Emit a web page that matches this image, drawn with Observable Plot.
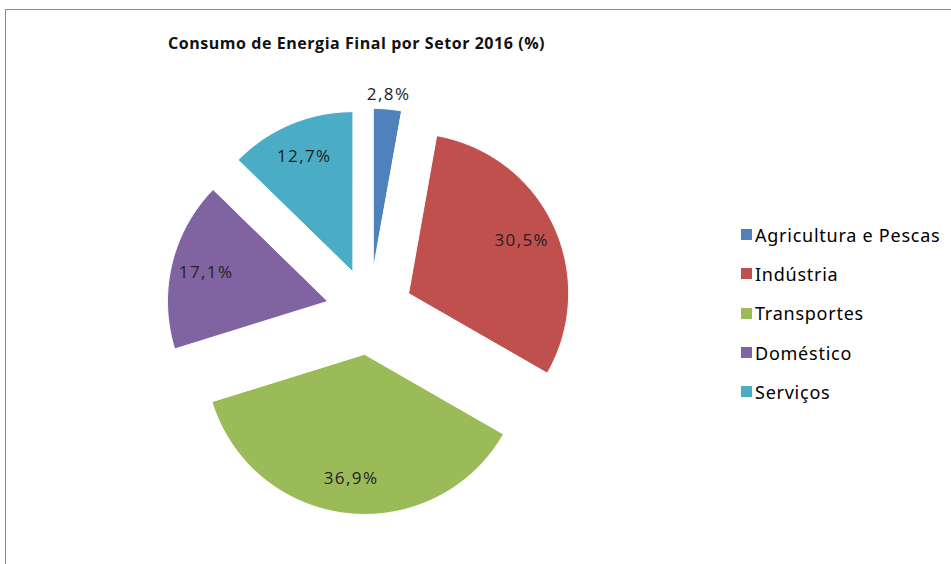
<!DOCTYPE html>
<html><head><meta charset="utf-8">
<script src="https://cdn.jsdelivr.net/npm/d3@7"></script>
<script src="https://cdn.jsdelivr.net/npm/@observablehq/plot@0.6"></script>
<style>
body{margin:0;background:#fff;}
#wrap{position:relative;width:951px;height:564px;overflow:hidden;font-family:"Open Sans",sans-serif;background:#fff;}
#frame{position:absolute;left:5px;top:9px;width:2000px;height:2000px;border-top:1px solid #8c8c8c;border-left:1px solid #8c8c8c;}
#chart{position:absolute;left:0;top:0;}
#title{position:absolute;left:168px;top:32px;font-weight:bold;font-size:16px;letter-spacing:0.55px;color:#111;white-space:nowrap;line-height:22px;}
#legend{position:absolute;left:741px;top:215px;}
.lg-swatch{height:39.3px;padding-bottom:0 !important;}
.lg-swatch > svg{margin-right:3px !important;}
.lg{font-family:"Open Sans",sans-serif !important;font-size:18px !important;color:#333 !important;}
.lg-swatch-label{font-size:18px !important;letter-spacing:0.75px !important;overflow:visible !important;}
.pie-label{letter-spacing:1.4px;}
</style></head>
<body><div id="wrap"><div id="frame"></div><div id="chart"></div><div id="title"></div><div id="legend"></div></div>
<script>
const sectors = ["Agricultura e Pescas", "Indústria", "Transportes", "Doméstico", "Serviços"];
const shares = [2.8, 30.5, 36.9, 17.1, 12.7];
const shareLabels = ["2,8%", "30,5%", "36,9%", "17,1%", "12,7%"];
const colors = ["#4F81BD", "#C0504D", "#9BBB59", "#8064A2", "#4BACC6"];
const titleText = "Consumo de Energia Final por Setor 2016 (%)";

// layout (pixels)
const W = 951, H = 564, CX = 369, CY = 311, R = 160;
const explode = 0.27;      // in radius units
const labelR = 0.78;       // inside label distance (radius units)
const outsideR = 1.09;     // outside label distance

const arcs = d3.pie().sort(null).value(d => d)(shares);
const rows = [];
const labelRows = [];
arcs.forEach((a, i) => {
  const mid = (a.startAngle + a.endAngle) / 2;
  const ox = explode * Math.sin(mid), oy = explode * Math.cos(mid);
  rows.push({sector: sectors[i], x: ox, y: oy});
  const n = Math.max(2, Math.ceil((a.endAngle - a.startAngle) / 0.01));
  for (let k = 0; k <= n; k++) {
    const t = a.startAngle + (a.endAngle - a.startAngle) * k / n;
    rows.push({sector: sectors[i], x: ox + Math.sin(t), y: oy + Math.cos(t)});
  }
  const lr = shares[i] < 5 ? outsideR : labelR;
  labelRows.push({text: shareLabels[i], x: ox + lr * Math.sin(mid), y: oy + lr * Math.cos(mid)});
});

const chart = Plot.plot({
  width: W, height: H, margin: 0,
  style: {fontFamily: "Open Sans", background: "transparent"},
  x: {domain: [-CX / R, (W - CX) / R], axis: null},
  y: {domain: [-(H - CY) / R, CY / R], axis: null},
  color: {domain: sectors, range: colors},
  marks: [
    Plot.line(rows, {x: "x", y: "y", z: "sector", fill: "sector", stroke: "white", strokeWidth: 1, curve: "linear-closed"}),
    Plot.text(labelRows, {x: "x", y: "y", text: "text", fontSize: 17, fill: "#222", className: "pie-label"})
  ]
});
document.getElementById("chart").append(chart);
document.getElementById("title").textContent = titleText;

const legend = Plot.legend({color: {domain: sectors, range: colors}, legend: "swatches", columns: 1, swatchSize: 11, className: "lg"});
document.getElementById("legend").append(legend);
</script>
</body></html>
